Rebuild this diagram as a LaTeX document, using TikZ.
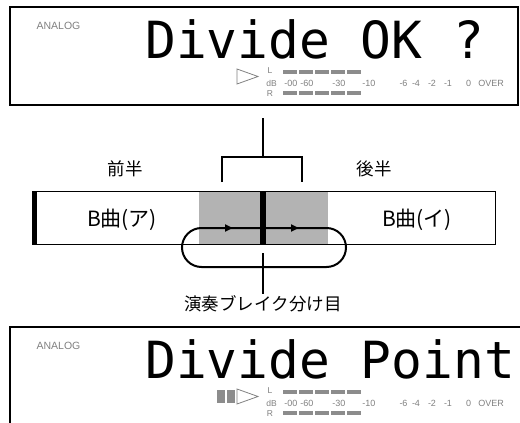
\documentclass[tikz,border=0pt]{standalone}
\usepackage{fontspec}
\setmainfont{Liberation Sans}
\newfontfamily\cjkfont{Noto Sans CJK JP}
\newfontfamily\dotfont{DejaVu Sans Mono}
\usetikzlibrary{arrows.meta}
\definecolor{lcdgray}{HTML}{808080}
\definecolor{bargray}{HTML}{8C8C8C}
\definecolor{zonegray}{HTML}{B3B3B3}
\tikzset{
  small/.style={font=\fontsize{9}{9}\selectfont, text=lcdgray, inner sep=0pt},
  tiny/.style={font=\fontsize{8.5}{8.5}\selectfont, text=lcdgray, inner sep=0pt},
  analogtxt/.style={font=\fontsize{10.5}{10.5}\selectfont, text=lcdgray, inner sep=0pt},
  dotmatrix/.style={font=\dotfont\fontsize{51.2}{52}\selectfont, inner sep=0pt, text depth=0pt, anchor=base west},
  tri/.style={draw=lcdgray, line width=0.8pt},
  bar/.style={fill=bargray},
  jp/.style={font=\cjkfont\fontsize{17.5}{18}\selectfont, inner sep=2pt},
  jpbig/.style={font=\cjkfont\fontsize{21}{22}\selectfont, inner sep=0pt},
  guide/.style={line width=1.5pt},
  loopline/.style={line width=2pt},
  tip/.style={line width=2pt, -{Triangle[length=8pt,width=7pt]}},
}
\newcommand\lcddisplay[3]{%
  \begin{scope}[shift={(0,#2)}]
    \node[analogtxt] (analog#1) at (58.5,25.5) {ANALOG};
    \node[dotmatrix] (lcd#1) at (145,58) {#3};
    \draw[tri] (237,69) -- (237,84) -- (258,76.5) -- cycle;
    \node[tiny] (L#1) at (270,71) {L};
    \node[tiny] (dB#1) at (271.5,83) {dB};
    \node[tiny] (R#1) at (270,94) {R};
    \foreach \x in {283,299,315,331,347} {
      \fill[bar] (\x,69.5) rectangle ++(14,4.5);
      \fill[bar] (\x,90.5) rectangle ++(14,4.5);
    }
    \node[small] (s00#1) at (291,83) {-00};
    \node[small] (s60#1) at (307,83) {-60};
    \node[small] (s30#1) at (339,83) {-30};
    \node[small] (s10#1) at (369,83) {-10};
    \node[small] (s6#1) at (403.5,83) {-6};
    \node[small] (s4#1) at (416,83) {-4};
    \node[small] (s2#1) at (432,83) {-2};
    \node[small] (s1#1) at (448,83) {-1};
    \node[small] (s0#1) at (468.5,83) {0};
    \node[small] (over#1) at (491,83) {OVER};
  \end{scope}
}
\begin{document}
\begin{tikzpicture}[x=1pt,y=-1pt]
\useasboundingbox (0,0) rectangle (520,423);
% top display
\draw[line width=1.5pt] (10,7) rectangle (518,105);
\lcddisplay{a}{0}{Divide OK ?}
% bottom display
\draw[line width=1.5pt] (10,440) -- (10,327) -- (530,327);
\lcddisplay{b}{320}{Divide Point}
\fill[bar] (217,390) rectangle (225,403);
\fill[bar] (227,390) rectangle (235,403);
% middle diagram
\fill[zonegray] (199,191) rectangle (328,244);
\draw[line width=1pt] (32,191) rectangle (495,244);
\fill (32,191) rectangle (36.5,244);
\draw[loopline, rounded corners=19.5pt] (182,228) rectangle (346,267);
\draw[tip] (220,228) -- (233,228);
\draw[tip] (286,228) -- (299,228);
\fill (260,191) rectangle (266,244);
\coordinate (brk) at (263,157);
\draw[guide] (263,118) -- (brk);
\draw[guide] (222,182) -- (222,157) -- (302,157) -- (302,182);
\node[jp] (first) at (125,169) {前半};
\node[jp] (second) at (374,169) {後半};
\node[jpbig] (songA) at (122,220) {B曲(ア)};
\node[jpbig] (songB) at (417,220) {B曲(イ)};
\node[jp] (brk2) at (263,304) {演奏ブレイク分け目};
\coordinate (lowtop) at (263,253);
\draw[guide] (lowtop) -- (brk2.north);
\end{tikzpicture}
\end{document}
